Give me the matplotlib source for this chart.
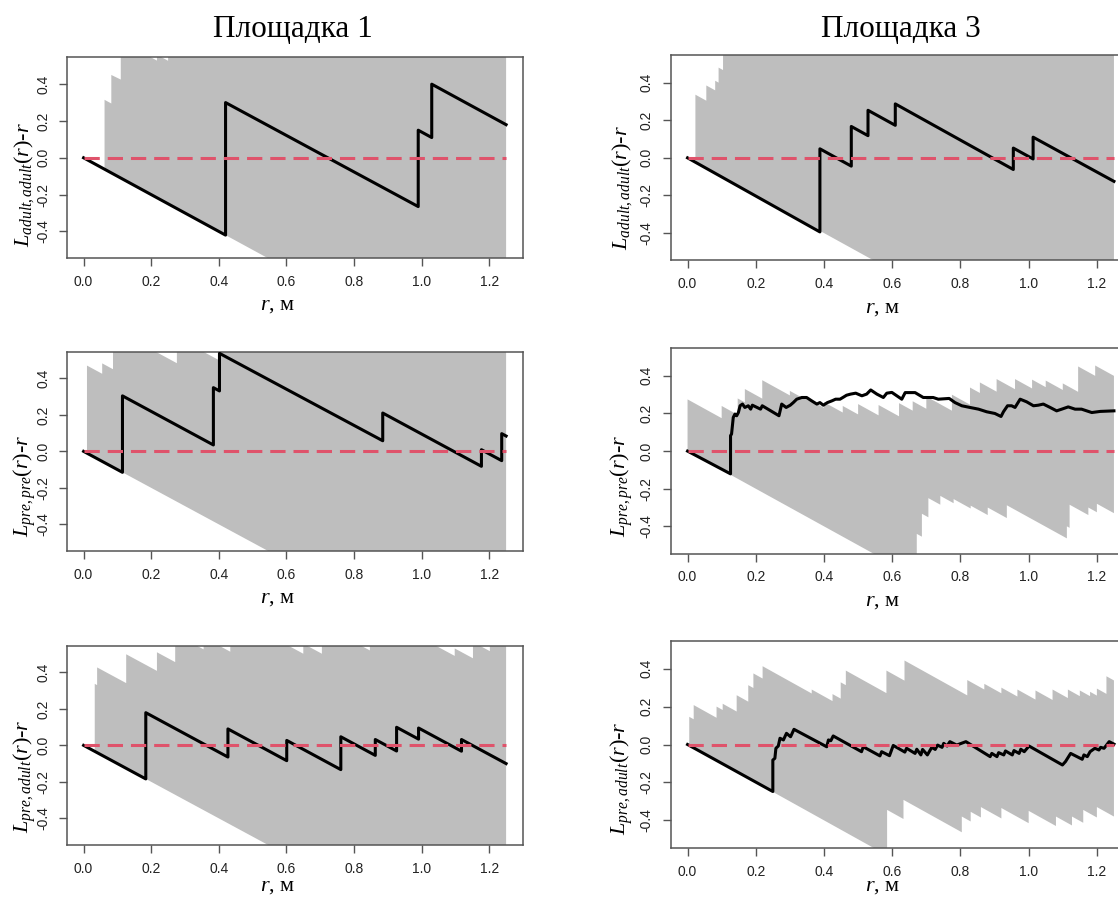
import matplotlib
matplotlib.use("Agg")
import matplotlib.pyplot as plt

plt.rcParams["mathtext.fontset"] = "custom"
plt.rcParams["mathtext.rm"] = "Liberation Serif"
plt.rcParams["mathtext.it"] = "Liberation Serif:italic"

# ---- data (r in metres, value = L(r) - r) ----
site_titles = ["Площадка 1", "Площадка 3"]
y_labels = [r"$L_{adult,adult}(r)$-$r$", r"$L_{pre,pre}(r)$-$r$", r"$L_{pre,adult}(r)$-$r$"]
x_label = r"$r$, м"
x_ticks = [0.0, 0.2, 0.4, 0.6, 0.8, 1.0, 1.2]
y_ticks = [-0.4, -0.2, 0.0, 0.2, 0.4]
theo_r = [0.0, 1.25]
theo_y = [0.0, 0.0]

# site 1, adult-adult
s1_aa_r = [0, 0.42, 0.42, 0.99, 0.99, 1.03, 1.03, 1.25]
s1_aa_y = [0, -0.42, 0.30, -0.265, 0.15, 0.11, 0.40, 0.18]
s1_aa_hi_r = [0.062, 0.082, 0.082, 0.110, 0.110, 0.217, 0.217, 0.250, 0.250, 1.25]
s1_aa_hi_y = [0.315, 0.295, 0.450, 0.425, 0.635, 0.528, 0.560, 0.527, 0.700, 0.700]
s1_aa_lo_r = [0.062, 1.25]
s1_aa_lo_y = [-0.062, -1.25]

# site 3, adult-adult
s3_aa_r = [0, 0.388, 0.388, 0.48, 0.48, 0.529, 0.529, 0.609, 0.609, 0.955, 0.955, 1.013, 1.013, 1.25]
s3_aa_y = [0, -0.394, 0.048, -0.044, 0.167, 0.118, 0.253, 0.173, 0.287, -0.062, 0.052, -0.006, 0.11, -0.125]
s3_aa_hi_r = [0.023, 0.055, 0.055, 0.081, 0.081, 0.091, 0.091, 0.104, 0.104, 1.25]
s3_aa_hi_y = [0.336, 0.304, 0.385, 0.359, 0.410, 0.400, 0.480, 0.467, 0.750, 0.750]
s3_aa_lo_r = [0.023, 1.25]
s3_aa_lo_y = [-0.023, -1.25]

# site 1, pre-pre
s1_pp_r = [0, 0.115, 0.115, 0.384, 0.384, 0.402, 0.402, 0.885, 0.885, 1.177, 1.177, 1.237, 1.237, 1.25]
s1_pp_y = [0, -0.115, 0.304, 0.035, 0.349, 0.331, 0.537, 0.058, 0.21, -0.082, 0.009, -0.051, 0.097, 0.084]
s1_pp_hi_r = [0.010, 0.055, 0.055, 0.087, 0.087, 0.276, 0.276, 0.400, 0.400, 1.25]
s1_pp_hi_y = [0.470, 0.425, 0.482, 0.450, 0.672, 0.483, 0.624, 0.500, 0.750, 0.750]
s1_pp_lo_r = [0.010, 1.25]
s1_pp_lo_y = [-0.010, -1.25]

# site 3, pre-pre
s3_pp_r = [0, 0.126, 0.126, 0.129, 0.134, 0.139, 0.144, 0.149, 0.154, 0.161,
           0.168, 0.178, 0.185, 0.190, 0.214, 0.219, 0.244, 0.268, 0.276, 0.289,
           0.301, 0.310, 0.320, 0.335, 0.349, 0.364, 0.379, 0.388, 0.398, 0.410,
           0.423, 0.434, 0.447, 0.458, 0.466, 0.478, 0.493, 0.511, 0.525, 0.537,
           0.555, 0.574, 0.584, 0.599, 0.628, 0.638, 0.667, 0.691, 0.720, 0.735,
           0.767, 0.784, 0.804, 0.828, 0.853, 0.877, 0.901, 0.919, 0.926, 0.938,
           0.950, 0.960, 0.975, 0.994, 1.014, 1.028, 1.043, 1.063, 1.082, 1.097,
           1.116, 1.136, 1.155, 1.185, 1.210, 1.250]
s3_pp_y = [0, -0.121, 0.082, 0.091, 0.179, 0.197, 0.188, 0.205, 0.241, 0.250,
           0.232, 0.241, 0.223, 0.244, 0.223, 0.241, 0.214, 0.188, 0.250, 0.232,
           0.244, 0.258, 0.276, 0.285, 0.285, 0.267, 0.250, 0.258, 0.244, 0.258,
           0.267, 0.276, 0.276, 0.288, 0.297, 0.303, 0.308, 0.294, 0.303, 0.325,
           0.303, 0.285, 0.308, 0.312, 0.276, 0.311, 0.311, 0.285, 0.285, 0.276,
           0.280, 0.258, 0.241, 0.232, 0.223, 0.209, 0.200, 0.184, 0.209, 0.241,
           0.241, 0.232, 0.276, 0.262, 0.241, 0.244, 0.250, 0.232, 0.214, 0.223,
           0.235, 0.223, 0.223, 0.205, 0.211, 0.214]
s3_pp_hi_r = [0, 0.100, 0.100, 0.147, 0.147, 0.168, 0.168, 0.219, 0.219, 0.300,
              0.300, 0.345, 0.345, 0.400, 0.400, 0.455, 0.455, 0.500, 0.500, 0.560,
              0.560, 0.620, 0.620, 0.660, 0.660, 0.700, 0.700, 0.775, 0.775, 0.828,
              0.828, 0.857, 0.857, 0.906, 0.906, 0.960, 0.960, 1.010, 1.010, 1.050,
              1.050, 1.100, 1.100, 1.145, 1.145, 1.195, 1.195, 1.250]
s3_pp_hi_y = [0.275, 0.175, 0.240, 0.193, 0.280, 0.259, 0.330, 0.279, 0.377, 0.296,
              0.320, 0.275, 0.285, 0.230, 0.260, 0.205, 0.240, 0.195, 0.250, 0.190,
              0.245, 0.185, 0.255, 0.215, 0.265, 0.225, 0.290, 0.215, 0.300, 0.247,
              0.338, 0.309, 0.365, 0.316, 0.383, 0.329, 0.383, 0.333, 0.380, 0.340,
              0.375, 0.325, 0.360, 0.315, 0.450, 0.400, 0.455, 0.400]
s3_pp_lo_r = [0, 0.672, 0.672, 0.687, 0.687, 0.706, 0.706, 0.741, 0.741, 0.780,
              0.780, 0.830, 0.830, 0.880, 0.880, 0.936, 0.936, 1.112, 1.112, 1.120,
              1.120, 1.175, 1.175, 1.200, 1.200, 1.250]
s3_pp_lo_y = [0, -0.672, -0.440, -0.455, -0.333, -0.352, -0.250, -0.285, -0.238, -0.277,
              -0.255, -0.305, -0.290, -0.340, -0.300, -0.356, -0.288, -0.464, -0.400, -0.408,
              -0.285, -0.340, -0.300, -0.325, -0.280, -0.330]

# site 1, pre-adult
s1_pa_r = [0, 0.184, 0.184, 0.427, 0.427, 0.601, 0.601, 0.761, 0.761, 0.863, 0.863,
           0.926, 0.926, 0.991, 0.991, 1.118, 1.118, 1.25]
s1_pa_y = [0, -0.184, 0.179, -0.064, 0.09, -0.084, 0.027, -0.133, 0.047, -0.055, 0.032,
           -0.031, 0.099, 0.034, 0.095, -0.032, 0.032, -0.10]
s1_pa_hi_r = [0.033, 0.040, 0.040, 0.126, 0.126, 0.217, 0.217, 0.271, 0.271, 0.355,
              0.355, 0.434, 0.434, 0.650, 0.650, 0.705, 0.705, 0.847, 0.847, 1.098,
              1.098, 1.152, 1.152, 1.202, 1.202, 1.25]
s1_pa_hi_y = [0.337, 0.330, 0.427, 0.341, 0.499, 0.408, 0.510, 0.456, 0.610, 0.526,
              0.592, 0.513, 0.718, 0.502, 0.557, 0.502, 0.662, 0.520, 0.741, 0.490,
              0.531, 0.477, 0.566, 0.516, 0.650, 0.602]
s1_pa_lo_r = [0.033, 1.25]
s1_pa_lo_y = [-0.033, -1.25]

# site 3, pre-adult
s3_pa_r = [0, 0.25, 0.25, 0.256, 0.259, 0.266, 0.271, 0.281, 0.29, 0.302,
           0.312, 0.408, 0.413, 0.42, 0.427, 0.51, 0.515, 0.564, 0.569, 0.592,
           0.603, 0.637, 0.642, 0.667, 0.672, 0.684, 0.689, 0.703, 0.716, 0.726,
           0.733, 0.746, 0.751, 0.761, 0.769, 0.789, 0.816, 0.887, 0.892, 0.907,
           0.912, 0.927, 0.932, 0.952, 0.957, 0.972, 0.977, 0.987, 1.001, 1.099,
           1.108, 1.123, 1.157, 1.162, 1.172, 1.18, 1.194, 1.206, 1.211, 1.221,
           1.236, 1.25]
s3_pa_y = [0, -0.248, -0.082, -0.073, -0.02, -0.008, 0.033, 0.024, 0.059, 0.041,
           0.08, -0.012, 0.024, 0.02, 0.045, -0.038, -0.012, -0.06, -0.038, -0.059,
           -0.005, -0.04, -0.02, -0.047, -0.025, -0.055, -0.026, -0.055, -0.015, -0.026,
           -0.003, -0.015, 0.006, -0.008, 0.015, -0.003, 0.015, -0.064, -0.047, -0.064,
           -0.043, -0.055, -0.034, -0.055, -0.032, -0.047, -0.025, -0.038, -0.008, -0.108,
           -0.09, -0.047, -0.078, -0.055, -0.064, -0.038, -0.02, -0.029, -0.015, -0.02,
           0.015, 0.002]
s3_pa_hi_r = [0.005, 0.018, 0.018, 0.085, 0.085, 0.103, 0.103, 0.144, 0.144, 0.178,
              0.178, 0.193, 0.193, 0.220, 0.220, 0.364, 0.364, 0.425, 0.425, 0.449,
              0.449, 0.464, 0.464, 0.583, 0.583, 0.636, 0.636, 0.820, 0.820, 0.870,
              0.870, 0.920, 0.920, 0.967, 0.967, 1.020, 1.020, 1.070, 1.070, 1.115,
              1.115, 1.150, 1.150, 1.180, 1.180, 1.200, 1.200, 1.228, 1.228, 1.250]
s3_pa_hi_y = [0.146, 0.133, 0.208, 0.141, 0.200, 0.182, 0.215, 0.174, 0.260, 0.226,
              0.313, 0.298, 0.375, 0.348, 0.413, 0.269, 0.290, 0.229, 0.266, 0.242,
              0.328, 0.313, 0.390, 0.271, 0.390, 0.337, 0.443, 0.259, 0.340, 0.290,
              0.320, 0.270, 0.300, 0.253, 0.290, 0.237, 0.285, 0.235, 0.290, 0.245,
              0.290, 0.255, 0.285, 0.255, 0.278, 0.258, 0.295, 0.267, 0.360, 0.338]
s3_pa_lo_r = [0.005, 0.585, 0.585, 0.633, 0.633, 0.804, 0.804, 0.830, 0.830, 0.860,
              0.860, 0.920, 0.920, 1.000, 1.000, 1.080, 1.080, 1.127, 1.127, 1.160,
              1.160, 1.200, 1.200, 1.250]
s3_pa_lo_y = [-0.005, -0.585, -0.345, -0.393, -0.292, -0.463, -0.380, -0.406, -0.355, -0.385,
              -0.330, -0.390, -0.335, -0.415, -0.350, -0.430, -0.380, -0.427, -0.380, -0.413,
              -0.345, -0.385, -0.330, -0.380]

panels = [
    (s1_aa_r, s1_aa_y, s1_aa_hi_r, s1_aa_hi_y, s1_aa_lo_r, s1_aa_lo_y),
    (s3_aa_r, s3_aa_y, s3_aa_hi_r, s3_aa_hi_y, s3_aa_lo_r, s3_aa_lo_y),
    (s1_pp_r, s1_pp_y, s1_pp_hi_r, s1_pp_hi_y, s1_pp_lo_r, s1_pp_lo_y),
    (s3_pp_r, s3_pp_y, s3_pp_hi_r, s3_pp_hi_y, s3_pp_lo_r, s3_pp_lo_y),
    (s1_pa_r, s1_pa_y, s1_pa_hi_r, s1_pa_hi_y, s1_pa_lo_r, s1_pa_lo_y),
    (s3_pa_r, s3_pa_y, s3_pa_hi_r, s3_pa_hi_y, s3_pa_lo_r, s3_pa_lo_y),
]

# ---- layout (pixel boxes measured on the 1118x897 picture) ----
W, H = 1118, 897
col_x = [(66.7, 523.0), (670.5, 1131.0)]
row_y = [[(57.3, 258.3), (351.7, 551.0), (645.7, 845.0)],
         [(55.2, 260.5), (348.4, 553.8), (641.0, 848.0)]]
ylab_x = [24.5, 622.0]
ylab_bottom = [[246.7, 536.7, 833.3], [250.4, 537.0, 835.4]]
xlab_x = [278.0, 883.0]
# bottom row labels sit at the lower edge; nudged up so they stay inside
xlab_base = [[310.0, 603.0, 891.0], [313.0, 606.0, 891.0]]
title_x = [293.0, 901.0]

serif = "Liberation Serif"
sans = "Liberation Sans"
frame = "#555555"

fig = plt.figure(figsize=(W / 100, H / 100), dpi=100)

for i, (obs_r, obs_y, hi_r, hi_y, lo_r, lo_y) in enumerate(panels):
    row, col = i // 2, i % 2
    x0, x1 = col_x[col]
    y0, y1 = row_y[col][row]
    ax = fig.add_axes([x0 / W, 1 - y1 / H, (x1 - x0) / W, (y1 - y0) / H])

    # simulation envelope: upper edge forward, lower edge back
    env_r = list(hi_r) + list(lo_r)[::-1]
    env_y = list(hi_y) + list(lo_y)[::-1]
    ax.fill(env_r, env_y, color="#BEBEBE", lw=0, zorder=1)
    ax.plot(obs_r, obs_y, color="black", lw=2.2, solid_joinstyle="round", zorder=3)
    ax.plot(theo_r, theo_y, color="#DF536B", lw=2.2, dashes=(5.0, 2.6), zorder=4)

    ax.set_xlim(-0.05, 1.30)
    ax.set_ylim(-0.546, 0.546)
    ax.set_xticks(x_ticks)
    ax.set_xticklabels([f"{t:.1f}" for t in x_ticks], fontfamily=sans, fontsize=10)
    ax.set_yticks(y_ticks)
    ax.set_yticklabels([f"{t:.1f}" for t in y_ticks], fontfamily=sans, fontsize=10,
                       rotation=90, va="center")
    ax.tick_params(direction="out", length=6, width=1, color=frame, pad=6,
                   labelcolor="#222222")
    for sp in ax.spines.values():
        sp.set_color(frame)
        sp.set_linewidth(1.1)

    fig.text(ylab_x[col] / W, 1 - ylab_bottom[col][row] / H, y_labels[row],
             rotation=90, ha="center", va="bottom", fontsize=16, fontfamily=serif)
    fig.text(xlab_x[col] / W, 1 - xlab_base[col][row] / H, x_label,
             ha="center", va="baseline", fontsize=16, fontfamily=serif)

for col in range(2):
    fig.text(title_x[col] / W, 1 - 37 / H, site_titles[col], ha="center",
             va="baseline", fontsize=22.5, fontfamily=serif)

fig.savefig("out.png", dpi=100)
